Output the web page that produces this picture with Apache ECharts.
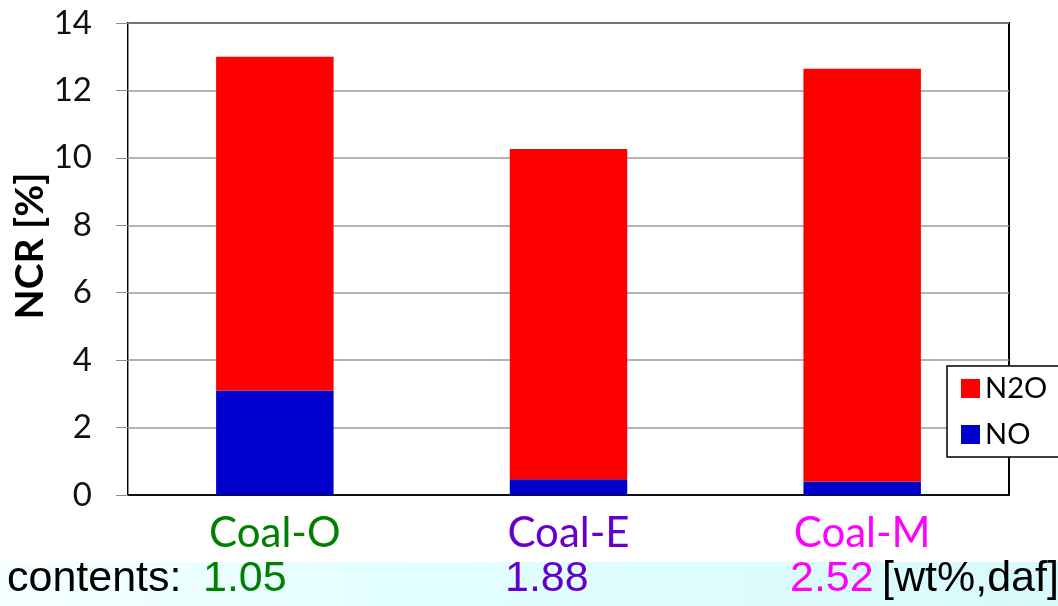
<!DOCTYPE html>
<html>
<head>
<meta charset="utf-8">
<script src="https://cdn.jsdelivr.net/npm/echarts@6/dist/echarts.min.js"></script>
<style>
  html, body { margin: 0; padding: 0; background: #fff; }
  #chart { width: 1058px; height: 606px; }
</style>
</head>
<body>
<div id="chart"></div>
<script>
// Nitrogen conversion ratio per coal, split into NO and N2O shares
const coals = ['Coal-O', 'Coal-E', 'Coal-M'];
const coalColors = ['#008000', '#6600CC', '#FF00FF'];
const noValues = [3.1, 0.47, 0.4];
const n2oValues = [9.9, 9.79, 12.24];
const nContents = ['1.05', '1.88', '2.52'];
const yTicks = { min: 0, max: 14, interval: 2 };

const chart = echarts.init(document.getElementById('chart'));

const grid = { left: 128, right: 49, top: 23, bottom: 111 };

const option = {
  backgroundColor: '#ffffff',
  animation: false,
  grid: {
    left: grid.left, right: grid.right, top: grid.top, bottom: grid.bottom,
    show: true, borderColor: '#000000', borderWidth: 2, backgroundColor: 'transparent'
  },
  legend: {
    orient: 'vertical',
    left: 947, top: 366,
    data: ['N2O', 'NO'],
    itemWidth: 19, itemHeight: 19, itemGap: 17, itemTextGap: 12,
    padding: [8, 16, 8, 14],
    backgroundColor: '#ffffff',
    borderColor: '#000000', borderWidth: 1.5, borderRadius: 0,
    icon: 'rect',
    textStyle: { fontFamily: 'Lato', fontSize: 29, color: '#000' }
  },
  xAxis: {
    type: 'category',
    data: coals,
    axisLine: { lineStyle: { color: '#111', width: 2 } },
    axisTick: { show: false },
    axisLabel: {
      margin: 17,
      fontFamily: 'Lato', fontSize: 42, lineHeight: 42,
      color: (v, i) => coalColors[coals.indexOf(v)]
    }
  },
  yAxis: {
    type: 'value',
    min: yTicks.min, max: yTicks.max, interval: yTicks.interval,
    axisLine: { show: true, lineStyle: { color: '#8c8c8c', width: 1 } },
    axisTick: { show: true, inside: false, length: 12, lineStyle: { color: '#8c8c8c' } },
    axisLabel: { margin: 36, fontFamily: 'Lato', fontSize: 33, color: '#111' },
    splitLine: { lineStyle: { color: '#9a9a9a', width: 1.5 } }
  },
  series: [
    {
      name: 'NO', type: 'bar', stack: 'ncr', barWidth: '40%',
      itemStyle: { color: '#0000CC' }, data: noValues
    },
    {
      name: 'N2O', type: 'bar', stack: 'ncr', barWidth: '40%',
      itemStyle: { color: '#FF0000' }, data: n2oValues
    }
  ],
  graphic: []
};

chart.setOption(option);

// Bottom annotation row: pale cyan band with nitrogen contents under each coal
const rowY = 579;
const rowFont = '43px "Liberation Sans"';
const graphics = [
  {
    type: 'rect', z: 0, silent: true,
    shape: { x: 0, y: 562, width: 1058, height: 44 },
    style: {
      fill: new echarts.graphic.LinearGradient(0, 0, 1, 0, [
        { offset: 0, color: '#f6ffff' },
        { offset: 0.4, color: '#e2ffff' },
        { offset: 1, color: '#d8fafa' }
      ])
    }
  },
  {
    type: 'text', z: 10, x: 7, y: rowY,
    style: { text: 'contents:', font: rowFont, fill: '#000', align: 'left', verticalAlign: 'middle' }
  },
  {
    type: 'text', z: 10, rotation: Math.PI / 2, x: 30, y: 246,
    style: {
      text: 'NCR [%]', font: 'bold 39px Lato', fill: '#000',
      align: 'center', verticalAlign: 'middle'
    }
  }
];
const valueLefts = [203, 505, 790];
nContents.forEach((v, i) => {
  graphics.push({
    type: 'text', z: 10, x: valueLefts[i], y: rowY,
    style: { text: v, font: rowFont, fill: coalColors[i], align: 'left', verticalAlign: 'middle' }
  });
});
graphics.push({
  type: 'text', z: 10, x: 882, y: rowY,
  style: { text: '[wt%,daf]', font: rowFont, fill: '#000', align: 'left', verticalAlign: 'middle' }
});

chart.setOption({ graphic: graphics });
</script>
</body>
</html>
